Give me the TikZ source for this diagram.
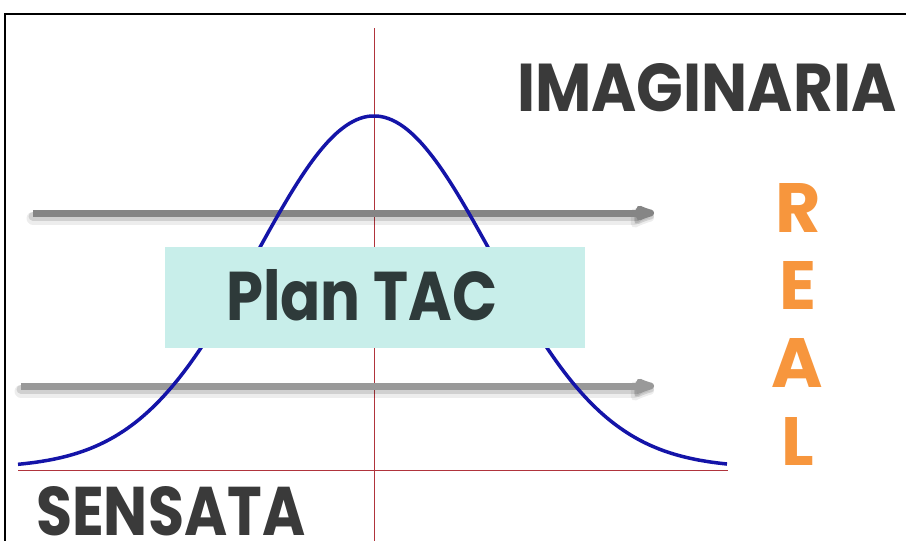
\documentclass[tikz,border=0pt]{standalone}
\usepackage{fontspec}
\setmainfont{Poppins}
\usepackage{graphicx}
\usetikzlibrary{arrows.meta}
\definecolor{redline}{HTML}{B0343C}
\definecolor{curveblue}{HTML}{1414A8}
\definecolor{boxfill}{HTML}{C8EEEA}
\definecolor{txtdark}{HTML}{3A3A3A}
\definecolor{plandark}{HTML}{2E3A3A}
\definecolor{orng}{HTML}{F7963D}
\definecolor{arrA}{HTML}{858585}
\definecolor{arrB}{HTML}{999999}
\tikzset{
  axisline/.style={draw=redline, line width=1pt},
  bellcurve/.style={draw=curveblue, line width=3.5pt},
  shadowwide/.style={draw=black, line width=13pt, opacity=0.07, line cap=round, -{Latex[length=36pt,width=24pt,round]}},
  shadowline/.style={draw=black, line width=9pt, opacity=0.12, line cap=round, -{Latex[length=34pt,width=20pt,round]}},
  grayarrow/.style={line width=7pt, -{Latex[length=34pt,width=18pt,round]}},
  labeltxt/.style={inner sep=0pt, text=txtdark, font=\bfseries},
  realtxt/.style={inner sep=0pt, text=orng, font=\bfseries, anchor=base},
  planbox/.style={fill=boxfill, draw=none, minimum width=420pt, minimum height=101pt, anchor=north west, inner sep=0pt}
}
\begin{document}
\begin{tikzpicture}[x=1pt,y=-1pt]
\useasboundingbox (0,0) rectangle (906,541);
\fill[white] (0,0) rectangle (906,541);
% frame
\coordinate (fbl) at (5,541);
\coordinate (ftl) at (5,14);
\coordinate (ftr) at (906,14);
\draw[line width=2pt] (fbl) -- (ftl) -- (ftr);
% axes
\coordinate (vt) at (374,28);
\coordinate (vb) at (374,541);
\coordinate (hl) at (18,470);
\coordinate (hr) at (728,470);
\draw[axisline] (vt) -- (vb);
\draw[axisline] (hl) -- (hr);
% arrows
\coordinate (a1s) at (33,213);
\coordinate (a1e) at (654,213);
\coordinate (a2s) at (21,386);
\coordinate (a2e) at (654,386);
\draw[shadowwide] ([yshift=-5pt]a1s) -- ([yshift=-5pt]a1e);
\draw[shadowline] ([yshift=-3pt]a1s) -- ([yshift=-3pt]a1e);
\draw[grayarrow, draw=arrA, fill=arrA] (a1s) -- (a1e);
\draw[shadowwide] ([yshift=-5pt]a2s) -- ([yshift=-5pt]a2e);
\draw[shadowline] ([yshift=-3pt]a2s) -- ([yshift=-3pt]a2e);
\draw[grayarrow, draw=arrB, fill=arrB] (a2s) -- (a2e);
% bell curve
\draw[bellcurve, domain=18:727, samples=200, smooth]
  plot (\x, {468-352*exp(-0.5*((\x-374)/118)^2)});
% box
\node[planbox] (box) at (165,247) {};
\node[inner sep=0pt, anchor=base west, text=plandark, font=\bfseries] (plan) at (226,320) {\resizebox{271pt}{51pt}{Plan TAC}};
% labels
\node[labeltxt, anchor=base west] (imag) at (517,111) {\resizebox{379pt}{48pt}{IMAGINARIA}};
\node[labeltxt, anchor=base west] (sens) at (36,535) {\resizebox{269pt}{49pt}{SENSATA}};
\node[realtxt] (r) at (798,232) {\resizebox{!}{49pt}{R}};
\node[realtxt] (e) at (798,309) {\resizebox{!}{48pt}{E}};
\node[realtxt] (a) at (797,387) {\resizebox{!}{49pt}{A}};
\node[realtxt] (l) at (798,465) {\resizebox{!}{48pt}{L}};
\end{tikzpicture}
\end{document}
